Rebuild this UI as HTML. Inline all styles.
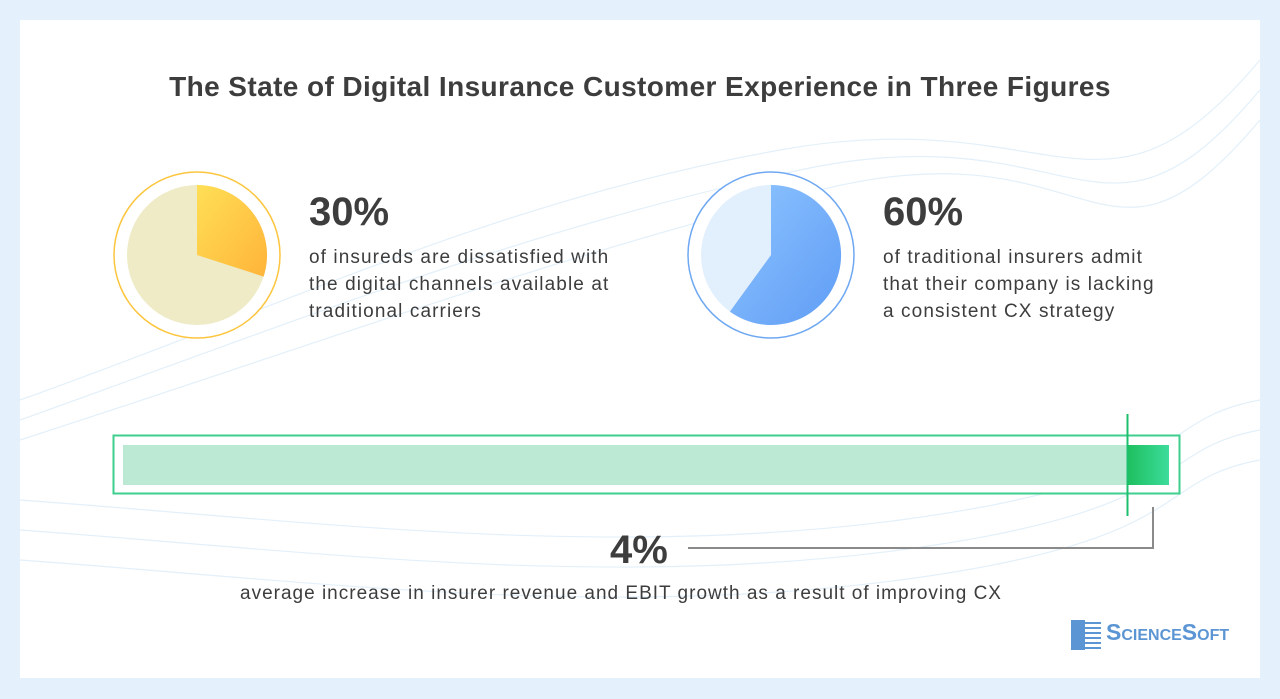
<!DOCTYPE html>
<html><head><style>
body{margin:0;width:1280px;height:699px;background:#e4f1fc;font-family:"Liberation Sans",sans-serif;color:#3d3d3d;overflow:hidden}
.card{position:absolute;left:20px;top:20px;width:1240px;height:658px;background:#fff}
.t{position:absolute;white-space:nowrap}
</style></head><body>
<div class="card"></div>
<svg width="1280" height="699" style="position:absolute;left:0;top:0">
<defs>
<linearGradient id="y" x1="0" y1="0" x2="1" y2="1"><stop offset="0" stop-color="#ffdf55"/><stop offset="1" stop-color="#ffb43a"/></linearGradient>
<linearGradient id="b" x1="0" y1="0" x2="1" y2="1"><stop offset="0" stop-color="#8ec5ff"/><stop offset="1" stop-color="#5f9cf5"/></linearGradient>
<linearGradient id="g" x1="0" y1="0" x2="1" y2="0"><stop offset="0" stop-color="#1dbf5e"/><stop offset="1" stop-color="#3ddc9b"/></linearGradient>
</defs>
<g fill="none" stroke="#e3f0fa" stroke-width="1.2">
<path d="M20 400 C300 300 500 200 780 150 S1100 250 1260 60"/>
<path d="M20 420 C300 320 520 230 800 170 S1100 280 1260 90"/>
<path d="M20 440 C300 350 540 260 820 190 S1100 310 1260 120"/>
<path d="M20 500 C300 520 600 560 900 520 S1150 420 1260 400"/>
<path d="M20 530 C300 550 600 590 900 550 S1150 450 1260 430"/>
<path d="M20 560 C300 580 600 620 900 580 S1150 480 1260 460"/>
</g>
<circle cx="197" cy="255" r="83" fill="#fff" stroke="#fcc53e" stroke-width="1.5"/>
<circle cx="197" cy="255" r="70" fill="#eeebc6"/>
<path d="M197 255 L197 185 A70 70 0 0 1 263.6 276.6 Z" fill="url(#y)"/>
<circle cx="771" cy="255" r="83" fill="#fff" stroke="#6ea8f2" stroke-width="1.5"/>
<circle cx="771" cy="255" r="70" fill="#e2f0fd"/>
<path d="M771 255 L771 185 A70 70 0 1 1 729.9 311.6 Z" fill="url(#b)"/>
<rect x="113.5" y="435.5" width="1066" height="58" fill="#fff" stroke="#3ecf8e" stroke-width="2"/>
<rect x="123" y="445" width="1004" height="40" fill="#bce9d4"/>
<rect x="1127" y="445" width="42" height="40" fill="url(#g)"/>
<line x1="1127.5" y1="414" x2="1127.5" y2="516" stroke="#1dbf6e" stroke-width="2"/>
<polyline points="688,548 1153,548 1153,507" fill="none" stroke="#8a8a8a" stroke-width="2"/>
<rect x="1071" y="620" width="14" height="30" fill="#5b95d3"/>
<g stroke="#5b95d3" stroke-width="2"><line x1="1085" y1="623" x2="1101" y2="623"/><line x1="1085" y1="628" x2="1101" y2="628"/><line x1="1085" y1="633" x2="1101" y2="633"/><line x1="1085" y1="638" x2="1101" y2="638"/><line x1="1085" y1="643" x2="1101" y2="643"/><line x1="1085" y1="648" x2="1101" y2="648"/></g>
</svg>
<div class="t" style="left:0;width:1280px;text-align:center;top:71px;font-size:28px;letter-spacing:0.4px;font-weight:bold">The State of Digital Insurance Customer Experience in Three Figures</div>
<div class="t" style="left:309px;top:190px;font-size:40px;font-weight:bold">30%</div>
<div class="t" style="left:309px;top:244px;font-size:19px;letter-spacing:1.1px;line-height:27px">of insureds are dissatisfied with<br>the digital channels available at<br>traditional carriers</div>
<div class="t" style="left:883px;top:190px;font-size:40px;font-weight:bold">60%</div>
<div class="t" style="left:883px;top:244px;font-size:19px;letter-spacing:1.1px;line-height:27px">of traditional insurers admit<br>that their company is lacking<br>a consistent CX strategy</div>
<div class="t" style="left:610px;top:528px;font-size:40px;font-weight:bold">4%</div>
<div class="t" style="left:0;width:1242px;text-align:center;top:583px;font-size:19px;letter-spacing:1px">average increase in insurer revenue and EBIT growth as a result of improving CX</div>
<div class="t" style="left:1106px;top:619px;font-size:23px;font-weight:bold;color:#5b95d3;font-variant:small-caps">ScienceSoft</div>
</body></html>
